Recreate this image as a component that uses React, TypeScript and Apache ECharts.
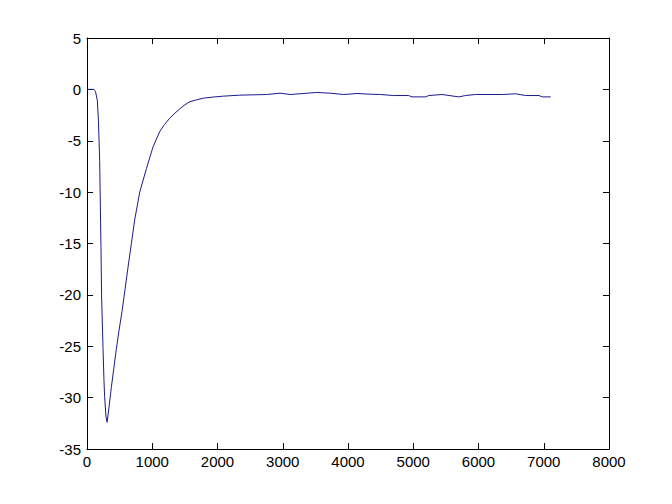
import React, { useEffect, useRef } from "react";
import * as echarts from "echarts";

const xValues = [
  0, 50, 106, 130, 158, 175, 194, 214, 224, 245, 260, 270, 290, 308, 340, 373,
  410, 449, 490, 537, 580, 629, 680, 731, 808, 911, 1012, 1115, 1190, 1269,
  1350, 1422, 1500, 1576, 1680, 1781, 1930, 2088, 2344, 2754, 2959, 3113, 3522,
  3727, 3932, 4137, 4341, 4495, 4700, 4929, 4981, 5186, 5237, 5442, 5698, 5800,
  5954, 6364, 6569, 6723, 6927, 6979, 7107,
];
const yValues = [
  0, 0, 0, -0.2, -1.05, -3, -6.9, -15.3, -20.2, -25.1, -28.3, -29.9, -31.8,
  -32.4, -30.8, -29, -27.2, -25.3, -23.5, -21.6, -19.6, -17.3, -15.0, -12.7,
  -10.0, -7.7, -5.6, -4.1, -3.4, -2.8, -2.3, -1.9, -1.5, -1.2, -1.02, -0.86,
  -0.75, -0.66, -0.56, -0.5, -0.37, -0.5, -0.3, -0.37, -0.5, -0.4, -0.47, -0.5,
  -0.6, -0.6, -0.73, -0.73, -0.6, -0.5, -0.73, -0.6, -0.5, -0.5, -0.43, -0.6,
  -0.6, -0.73, -0.73,
];

const X_MIN = 0;
const X_MAX = 8000;
const X_STEP = 1000;
const Y_MIN = -35;
const Y_MAX = 5;
const Y_STEP = 5;

const FONT = "'Liberation Sans', Arial, sans-serif";

export default function App() {
  const ref = useRef<HTMLDivElement>(null);

  useEffect(() => {
    if (!ref.current) return;
    const chart = echarts.init(ref.current, undefined, { renderer: "svg" });
    const axisLine = { show: true, onZero: false, lineStyle: { color: "#000", width: 1 } };
    const axisTick = { show: true, inside: true, length: 6, lineStyle: { color: "#000", width: 1 } };
    const label = {
      color: "#000",
      fontSize: 15,
      fontFamily: FONT,
      formatter: (v: number) => String(v),
    };
    const data = xValues.map((x, i) => [x, yValues[i]]);

    chart.setOption({
      animation: false,
      backgroundColor: "#fff",
      grid: { left: 87, right: 63, top: 38, bottom: 55, containLabel: false },
      xAxis: [
        {
          type: "value",
          min: X_MIN,
          max: X_MAX,
          interval: X_STEP,
          position: "bottom",
          axisLine,
          axisTick,
          axisLabel: { ...label, margin: 5 },
          splitLine: { show: false },
        },
        {
          type: "value",
          min: X_MIN,
          max: X_MAX,
          interval: X_STEP,
          position: "top",
          axisLine,
          axisTick,
          axisLabel: { show: false },
          splitLine: { show: false },
        },
      ],
      yAxis: [
        {
          type: "value",
          min: Y_MIN,
          max: Y_MAX,
          interval: Y_STEP,
          position: "left",
          axisLine,
          axisTick,
          axisLabel: { ...label, margin: 6 },
          splitLine: { show: false },
        },
        {
          type: "value",
          min: Y_MIN,
          max: Y_MAX,
          interval: Y_STEP,
          position: "right",
          axisLine,
          axisTick,
          axisLabel: { show: false },
          splitLine: { show: false },
        },
      ],
      series: [
        {
          type: "line",
          data,
          xAxisIndex: 0,
          yAxisIndex: 0,
          showSymbol: false,
          smooth: false,
          lineStyle: { color: "#1a1a8c", width: 1 },
        },
      ],
    });

    return () => chart.dispose();
  }, []);

  return (
    <div
      ref={ref}
      style={{ position: "fixed", left: 0, top: 0, width: 672, height: 504, background: "#fff" }}
    />
  );
}
